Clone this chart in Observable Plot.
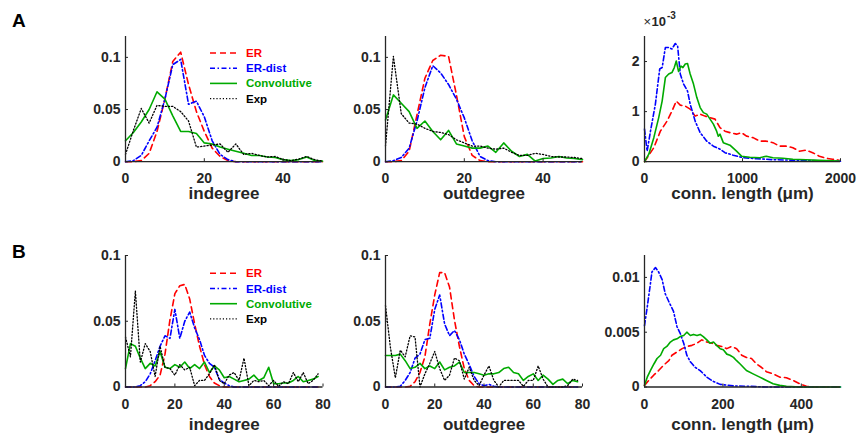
<!DOCTYPE html>
<html><head><meta charset="utf-8">
<script src="https://cdn.jsdelivr.net/npm/d3@7"></script>
<script src="https://cdn.jsdelivr.net/npm/@observablehq/plot@0.6"></script>
<style>
html,body{margin:0;padding:0;background:#fff;}
#root{position:relative;width:859px;height:437px;overflow:hidden;font-family:"Liberation Sans",Arial,sans-serif;}
</style></head><body><div id="root"></div>
<script>
// ---------- data ----------
const seriesNames = ["ER", "ER-dist", "Convolutive", "Exp"];
const seriesColors = ["#ff0000", "#0000ff", "#00aa00", "#000000"];

const degA = [0,2,4,6,8,10,12,14,16,18,20,22,24,26,28,30,32,34,36,38,40,42,44,46,48,50];
const degB = [0,2,4,6,8,10,12,14,16,18,20,22,24,26,28,30,32,34,36,38,40,42,44,46,48,50,52,54,56,58,60,62,64,66,68,70,72,74,76,78];

// Panel A, indegree
const aInER   = [0,0,0.001,0.008,0.029,0.06,0.096,0.105,0.074,0.048,0.029,0.013,0.005,0.001,0,0,0,0,0,0,0,0,0,0,0,0];
const aInDist = [0,0.001,0.006,0.02,0.033,0.06,0.093,0.098,0.055,0.058,0.043,0.02,0.007,0.002,0,0,0,0,0,0,0,0,0,0,0,0];
const aInConv = [0.02,0.028,0.038,0.05,0.067,0.06,0.044,0.029,0.029,0.027,0.018,0.017,0.014,0.012,0.01,0.008,0.006,0.006,0.0045,0.004,0.002,0.001,0.002,0.0045,0.001,0.0005];
const aInExp  = [0.007,0.03,0.051,0.037,0.054,0.053,0.053,0.048,0.039,0.014,0.015,0.016,0.017,0.009,0.017,0.007,0.008,0.006,0.0045,0.005,0.002,0.001,0.0025,0.005,0.002,0.0005];

// Panel A, outdegree
const aOutER   = [0,0,0.001,0.01,0.045,0.08,0.097,0.102,0.101,0.064,0.024,0.006,0.001,0,0,0,0,0,0,0,0,0,0,0,0,0];
const aOutDist = [0,0.001,0.004,0.013,0.039,0.071,0.092,0.085,0.074,0.06,0.042,0.02,0.005,0.001,0,0,0,0,0,0,0,0,0,0,0,0];
const aOutConv = [0.04,0.064,0.056,0.048,0.032,0.039,0.029,0.021,0.03,0.017,0.015,0.013,0.013,0.015,0.009,0.018,0.01,0.005,0.007,0.0006,0.003,0.0035,0.005,0.0035,0.003,0.002];
const aOutExp  = [0.015,0.101,0.046,0.037,0.036,0.032,0.029,0.028,0.026,0.021,0.018,0.015,0.015,0.013,0.012,0.013,0.009,0.006,0.006,0.008,0.007,0.005,0.0045,0.0045,0.004,0.003];

// Panel A, connection length (values in units of 10^-3)
const aLenDistX = [0,27,61,111,155,180,213,247,280,314,338,365,399,439,466,517,568,635,703,770,821,905,1007,1142,1311,1581,1919,2000];
const aLenDist  = [0.65,0.21,0.61,1.15,1.85,1.88,2.28,2.28,2.25,2.36,2.31,1.75,1.55,1.41,1.15,0.81,0.58,0.41,0.31,0.25,0.18,0.13,0.08,0.06,0.04,0.027,0.013,0.01];
const aLenConvX = [0,44,95,145,180,213,247,280,304,324,348,372,392,416,439,466,500,534,568,601,635,669,703,736,753,770,804,872,939,990,1074,1176,1243,1311,1412,1514,1649,1784,1986];
const aLenConv  = [0,0.15,0.48,0.88,1.21,1.68,1.75,1.78,1.88,2.01,1.8,1.91,1.88,1.95,1.96,1.75,1.55,1.28,1.08,0.98,0.95,0.85,0.75,0.61,0.51,0.55,0.38,0.33,0.21,0.11,0.09,0.08,0.11,0.08,0.07,0.05,0.04,0.027,0.013];
const aLenERX   = [0,95,162,230,280,324,365,416,466,517,568,618,669,720,770,821,872,939,990,1041,1108,1176,1243,1311,1378,1446,1514,1581,1649,1716,1784,1851,1919,1986];
const aLenER    = [0,0.28,0.61,0.81,1.01,1.21,1.13,1.11,1.05,0.91,0.95,0.91,0.88,0.85,0.68,0.61,0.58,0.55,0.58,0.51,0.48,0.41,0.41,0.38,0.31,0.31,0.28,0.21,0.23,0.18,0.11,0.07,0.05,0.03];

// Panel B, indegree
const bInER   = [0,0,0,0,0,0.001,0.004,0.009,0.025,0.051,0.071,0.077,0.078,0.067,0.048,0.031,0.017,0.008,0.003,0.001,0,0,0,0,0,0,0,0,0,0,0,0,0,0,0,0,0,0,0,0];
const bInDist = [0,0,0,0.001,0.004,0.01,0.02,0.031,0.039,0.037,0.059,0.037,0.05,0.057,0.045,0.036,0.024,0.018,0.015,0.006,0.003,0.001,0,0,0,0,0,0,0,0,0,0,0,0,0,0,0,0,0,0];
const bInConv = [0.014,0.033,0.031,0.022,0.014,0.018,0.016,0.027,0.015,0.014,0.017,0.015,0.019,0.014,0.017,0.014,0.019,0.011,0.016,0.013,0.007,0.008,0.006,0.004,0.005,0.006,0.009,0.005,0.007,0.015,0.0025,0.0025,0.003,0.003,0.005,0.008,0.004,0.005,0.006,0.008];
const bInExp  = [0.038,0.023,0.073,0.019,0.033,0.027,0.008,0.031,0.015,0.014,0.009,0.017,0.013,0.015,0.001,0.005,0.005,0.01,0.017,0.005,0.0025,0.009,0.011,0.005,0.022,0.001,0.005,0.004,0.005,0.001,0.005,0.0005,0.004,0.0025,0.011,0.004,0.011,0.0025,0.005,0.01];

// Panel B, outdegree
const bOutER   = [0,0,0,0,0,0.0005,0.004,0.011,0.023,0.048,0.07,0.087,0.087,0.076,0.051,0.031,0.014,0.005,0.001,0,0,0,0,0,0,0,0,0,0,0,0,0,0,0,0,0,0,0,0,0];
const bOutDist = [0,0,0,0.0005,0.005,0.011,0.022,0.025,0.036,0.037,0.059,0.07,0.048,0.039,0.043,0.036,0.025,0.017,0.008,0.0025,0.001,0.002,0.0005,0,0,0,0,0,0,0,0,0,0,0,0,0,0,0,0,0];
const bOutConv = [0.024,0.024,0.024,0.025,0.02,0.014,0.015,0.018,0.014,0.016,0.014,0.019,0.013,0.015,0.016,0.019,0.011,0.011,0.011,0.01,0.009,0.01,0.01,0.011,0.014,0.015,0.011,0.01,0.005,0.008,0.01,0.005,0.009,0.006,0.002,0.005,0.006,0.0025,0.005,0.004];
const bOutExp  = [0.062,0.03,0.007,0.028,0.023,0.039,0.038,0,0.01,0.018,0.027,0.014,0.005,0.009,0.022,0.02,0.006,0.015,0.005,0.001,0.009,0.016,0.005,0,0.005,0.005,0.005,0.005,0.0005,0.005,0.005,0.016,0.006,0,0,0,0,0.001,0.006,0.005];

// Panel B, connection length
const bLenDistX = [0,7,13.5,19,28,36,45,53,62,66,74,83,91,100,108,117,129,142,159,176,193,227,269,311,500];
const bLenDist  = [0.0056,0.0073,0.009,0.0105,0.0109,0.0105,0.0098,0.0085,0.0078,0.0075,0.0069,0.0055,0.0049,0.004,0.0029,0.0023,0.0018,0.0015,0.0009,0.0005,0.00024,0.0001,0.00006,0,0];
const bLenConvX = [0,7,15,24,32,41,49,57,66,74,83,91,100,108,117,125,134,142,150,159,167,176,184,193,201,210,218,227,235,244,252,260,277,294,311,328,345,362,396,500];
const bLenConv  = [0.00015,0.0009,0.0015,0.0021,0.0026,0.0029,0.0035,0.0037,0.0041,0.0043,0.0044,0.0046,0.0047,0.005,0.0047,0.0048,0.0047,0.0048,0.0046,0.0043,0.004,0.0041,0.0038,0.0035,0.0034,0.003,0.0029,0.0027,0.0024,0.0021,0.0018,0.0015,0.0012,0.0009,0.0006,0.0003,0.00015,0.00006,0,0];
const bLenERX   = [0,11,24,36,49,62,70,83,96,108,121,134,146,159,172,184,197,210,222,235,248,260,273,286,298,311,328,345,362,379,396,413,430,500];
const bLenER    = [0.00015,0.0006,0.0011,0.0015,0.002,0.0024,0.0029,0.0032,0.0035,0.0037,0.0038,0.004,0.0043,0.0041,0.004,0.0038,0.0037,0.0035,0.0037,0.0035,0.0029,0.0027,0.0026,0.0021,0.0018,0.0014,0.0012,0.0009,0.00085,0.0006,0.0003,0.00006,0,0];

// tick values
const ticksDegA = [0,20,40];
const ticksDegB = [0,20,40,60,80];
const ticksLenA = [0,1000,2000];
const ticksLenB = [0,200,400];
const ticksYA = [0,0.05,0.1];
const ticksYB = [0,0.05,0.1];
const ticksYLenA = [0,1,2];
const ticksYLenB = [0,0.005,0.01];

// ---------- drawing ----------
const dashes = ["6,4", "5,2.5,1.5,2.5", null, "1.2,2"];
const widths = [1.6, 1.6, 1.6, 1.3];
const axisColor = "#262626";
const FONT = '"Liberation Sans", Arial, Helvetica, sans-serif';
const root = document.getElementById("root");

function ser(idx, x, y) { return {idx, x, y}; }

function panel(cfg) {
  const mL = 60, mR = 30, mT = 30, mB = 52;
  const marks = [];
  for (const s of cfg.lines) {
    const data = s.x.map((x, i) => ({x, y: s.y[i]}));
    const opts = {x: "x", y: "y", stroke: seriesColors[s.idx], strokeWidth: widths[s.idx]};
    if (dashes[s.idx]) opts.strokeDasharray = dashes[s.idx];
    marks.push(Plot.line(data, opts));
  }
  marks.push(Plot.ruleY([cfg.yDomain[0]], {stroke: axisColor, strokeWidth: 1.3}));
  marks.push(Plot.ruleX([cfg.xDomain[0]], {stroke: axisColor, strokeWidth: 1.3}));
  marks.push(Plot.axisX({ticks: cfg.xTicks, tickSize: -3, tickPadding: cfg.xPad, tickFormat: d => String(d), label: null, fontSize: 14}));
  marks.push(Plot.axisY({ticks: cfg.yTicks, tickSize: -3, tickPadding: 8, tickFormat: d => String(d), label: null, fontSize: 14}));
  marks.push(Plot.text([cfg.xLabel], {frameAnchor: "bottom", dy: cfg.labelDy, lineAnchor: "bottom", fontSize: 17, fontWeight: "bold", fill: axisColor}));
  if (cfg.extra) marks.push(...cfg.extra);
  const svg = Plot.plot({
    width: mL + cfg.w + mR, height: mT + cfg.h + mB,
    marginLeft: mL, marginRight: mR, marginTop: mT, marginBottom: mB,
    x: {domain: cfg.xDomain}, y: {domain: cfg.yDomain},
    style: {fontFamily: FONT, fontSize: "14px", fontWeight: "bold", color: axisColor, background: "none", overflow: "visible"},
    marks
  });
  svg.style.position = "absolute";
  svg.style.left = (cfg.left - mL) + "px";
  svg.style.top = (cfg.top - mT) + "px";
  root.appendChild(svg);
}

const topA = 35.5, hA = 125.2, topB = 255.2, hB = 131.5;
const padA = 14, padB = 15.5, labA = 37.5, labB = 42.5;

panel({left: 125, top: topA, w: 197, h: hA, xDomain: [0,50], yDomain: [0,0.12], xTicks: ticksDegA, yTicks: ticksYA, xLabel: "indegree", xPad: padA, labelDy: labA,
  lines: [ser(0, degA, aInER), ser(1, degA, aInDist), ser(2, degA, aInConv), ser(3, degA, aInExp)]});
panel({left: 385, top: topA, w: 197, h: hA, xDomain: [0,50], yDomain: [0,0.12], xTicks: ticksDegA, yTicks: ticksYA, xLabel: "outdegree", xPad: padA, labelDy: labA,
  lines: [ser(0, degA, aOutER), ser(1, degA, aOutDist), ser(2, degA, aOutConv), ser(3, degA, aOutExp)]});
panel({left: 644, top: topA, w: 196, h: hA, xDomain: [0,2000], yDomain: [0,2.5], xTicks: ticksLenA, yTicks: ticksYLenA, xLabel: "conn. length (μm)", xPad: padA, labelDy: labA,
  lines: [ser(0, aLenERX, aLenER), ser(1, aLenDistX, aLenDist), ser(2, aLenConvX, aLenConv)],
  extra: [
    Plot.text(["×"], {frameAnchor: "top-left", dx: -1, dy: -10.5, lineAnchor: "bottom", textAnchor: "start", fontSize: 13, fontWeight: "normal", fill: axisColor}),
    Plot.text(["10"], {frameAnchor: "top-left", dx: 7, dy: -10.5, lineAnchor: "bottom", textAnchor: "start", fontSize: 13, fontWeight: "bold", fill: axisColor}),
    Plot.text(["-3"], {frameAnchor: "top-left", dx: 22.5, dy: -17, lineAnchor: "bottom", textAnchor: "start", fontSize: 10, fontWeight: "bold", fill: axisColor})
  ]});
panel({left: 125, top: topB, w: 197.5, h: hB, xDomain: [0,80], yDomain: [0,0.1], xTicks: ticksDegB, yTicks: ticksYB, xLabel: "indegree", xPad: padB, labelDy: labB,
  lines: [ser(0, degB, bInER), ser(1, degB, bInDist), ser(2, degB, bInConv), ser(3, degB, bInExp)]});
panel({left: 385, top: topB, w: 197, h: hB, xDomain: [0,80], yDomain: [0,0.1], xTicks: ticksDegB, yTicks: ticksYB, xLabel: "outdegree", xPad: padB, labelDy: labB,
  lines: [ser(0, degB, bOutER), ser(1, degB, bOutDist), ser(2, degB, bOutConv), ser(3, degB, bOutExp)]});
panel({left: 644, top: topB, w: 196, h: hB, xDomain: [0,500], yDomain: [0,0.012], xTicks: ticksLenB, yTicks: ticksYLenB, xLabel: "conn. length (μm)", xPad: padB, labelDy: labB,
  lines: [ser(0, bLenERX, bLenER), ser(1, bLenDistX, bLenDist), ser(2, bLenConvX, bLenConv)]});

// overlay: panel letters and legends
const NS = "http://www.w3.org/2000/svg";
const ov = document.createElementNS(NS, "svg");
ov.setAttribute("width", 859); ov.setAttribute("height", 437);
ov.style.position = "absolute"; ov.style.left = "0"; ov.style.top = "0"; ov.style.pointerEvents = "none";
ov.style.fontFamily = FONT; ov.style.fontWeight = "bold";
root.appendChild(ov);

function txt(x, y, s, size, fill) {
  const t = document.createElementNS(NS, "text");
  t.setAttribute("x", x); t.setAttribute("y", y);
  t.setAttribute("font-size", size); t.setAttribute("fill", fill);
  t.textContent = s; ov.appendChild(t);
}
txt(12, 27, "A", 19, "#000");
txt(12, 258, "B", 19, "#000");

function legend(x0, y0) {
  seriesNames.forEach((name, i) => {
    const y = y0 + i * 15.2;
    const l = document.createElementNS(NS, "line");
    l.setAttribute("x1", x0); l.setAttribute("x2", x0 + 27);
    l.setAttribute("y1", y); l.setAttribute("y2", y);
    l.setAttribute("stroke", seriesColors[i]); l.setAttribute("stroke-width", widths[i]);
    if (dashes[i]) l.setAttribute("stroke-dasharray", dashes[i]);
    ov.appendChild(l);
    txt(x0 + 36, y + 4, name, 11.5, seriesColors[i]);
  });
}
legend(210, 53);
legend(210, 273.3);
</script>
</body></html>
